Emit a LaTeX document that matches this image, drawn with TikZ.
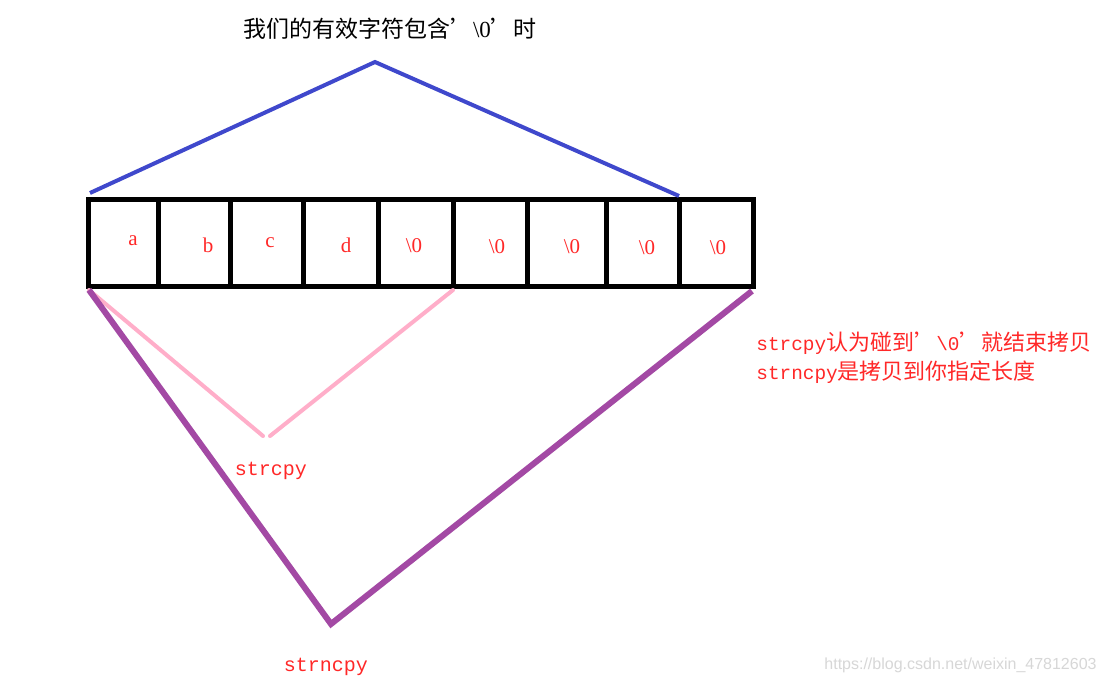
\documentclass[tikz,border=0pt]{standalone}
\usepackage{fontspec}
\setmainfont{Liberation Serif}
\setmonofont{Liberation Mono}
\setsansfont{Liberation Sans}
\newfontfamily\cjk{Noto Sans CJK SC}
\definecolor{txtred}{RGB}{255,40,40}
\definecolor{lnblue}{RGB}{63,72,204}
\definecolor{lnpink}{RGB}{255,174,201}
\definecolor{lnpurple}{RGB}{163,73,164}
\definecolor{wmgray}{RGB}{215,215,215}
\tikzset{
  cellbox/.style={draw=black,line width=2.5pt},
  celltxt/.style={text=txtred,font=\fontsize{10.5}{12}\selectfont,inner sep=0pt},
  bluelink/.style={draw=lnblue,line width=2pt},
  pinklink/.style={draw=lnpink,line width=2pt,line cap=round},
  purplelink/.style={draw=lnpurple,line width=3pt,line join=miter},
  monolabel/.style={text=txtred,font=\ttfamily\fontsize{10}{12}\selectfont,inner sep=0pt},
}
\begin{document}
\begin{tikzpicture}[x=0.5pt,y=-0.5pt]
\useasboundingbox[fill=white] (0,0) rectangle (1104,684);
% array box
\draw[cellbox] (88,200) rectangle (753,287);
\foreach \xx in {158,230,303,378,453,527,606,679}
  \draw[cellbox] (\xx,200) -- (\xx,287);
% cell texts
\node[celltxt] (ca) at (133,241) {a};
\node[celltxt] (cb) at (208,245) {b};
\node[celltxt] (cc) at (270,243) {c};
\node[celltxt] (cd) at (346,245) {d};
\node[celltxt] (z1) at (414,246) {\textbackslash 0};
\node[celltxt] (z2) at (497,247) {\textbackslash 0};
\node[celltxt] (z3) at (572,247) {\textbackslash 0};
\node[celltxt] (z4) at (647,248) {\textbackslash 0};
\node[celltxt] (z5) at (718,248) {\textbackslash 0};
% corner coordinates
\coordinate (tl) at (90,193);
\coordinate (tr) at (679,196);
\coordinate (bl) at (89,290);
\coordinate (bm) at (453,290);
\coordinate (br) at (752,291);
\coordinate (blueapex) at (375,62);
\coordinate (pinkL) at (263,436);
\coordinate (pinkR) at (270,436);
\coordinate (purpleapex) at (331,624);
% connectors
\draw[bluelink] (tl) -- (blueapex) -- (tr);
\draw[pinklink] (bl) -- (pinkL);
\draw[pinklink] (pinkR) -- (bm);
\draw[purplelink] (bl) -- (purpleapex) -- (br);
% labels
\node[font=\fontsize{11.5}{13}\selectfont,inner sep=0pt] (title) at (390,29)
  {{\cjk 我们的有效字符包含’}\textbackslash 0{\cjk ’时}};
\node[monolabel] (lstrcpy) at (271,471) {strcpy};
\node[monolabel] (lstrncpy) at (326,667) {strncpy};
\node[text=txtred,font=\fontsize{9.7}{14.5}\selectfont,align=left,anchor=west,inner sep=0pt] (note) at (756,357.5)
  {{\ttfamily strcpy}{\cjk\fontsize{11}{14.5}\selectfont 认为碰到’}{\ttfamily\textbackslash 0}{\cjk\fontsize{11}{14.5}\selectfont ’就结束拷贝}\\
   {\ttfamily strncpy}{\cjk\fontsize{11}{14.5}\selectfont 是拷贝到你指定长度}};
\node[text=wmgray,font=\sffamily\fontsize{8}{10}\selectfont,anchor=east,inner sep=0pt] (wm) at (1097,665)
  {https://blog.csdn.net/weixin\_47812603};
\end{tikzpicture}
\end{document}
